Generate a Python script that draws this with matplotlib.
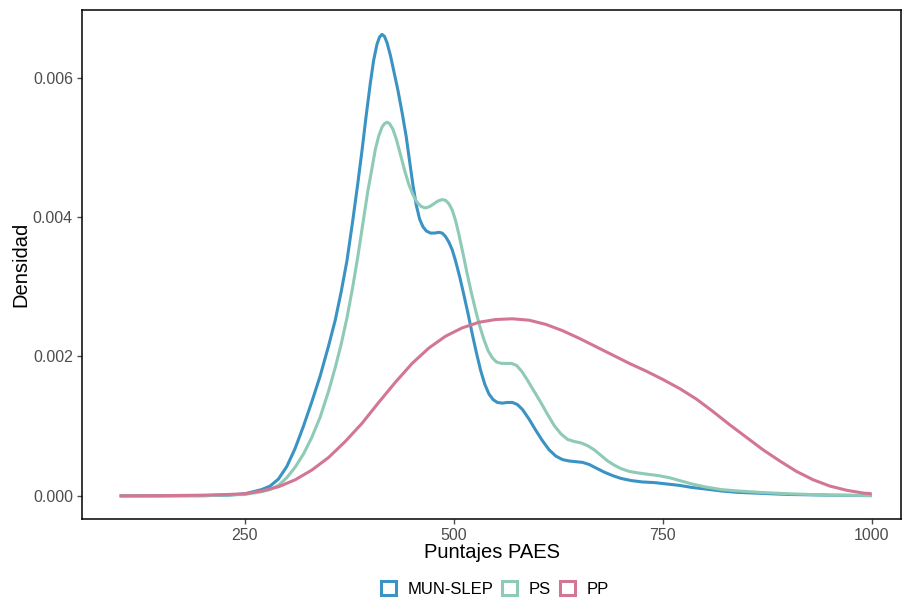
import matplotlib
matplotlib.use('Agg')
import matplotlib.pyplot as plt
from matplotlib.patches import Patch

plt.rcParams['font.family'] = ['Liberation Sans', 'DejaVu Sans']

# curvas de densidad
x_mun = [100, 150, 200, 230, 250, 260, 270, 280, 290, 300, 310, 320, 330, 340, 350, 358,
         365, 372, 379, 385, 390, 395, 400, 404, 408, 411, 414, 417, 420, 424, 428, 433,
         438, 443, 447, 451, 455, 459, 463, 467, 472, 477, 482, 486, 490, 494, 498, 502,
         507, 512, 517, 522, 527, 532, 537, 542, 547, 552, 558, 564, 570, 576, 582, 590,
         598, 606, 614, 622, 630, 638, 646, 654, 662, 670, 680, 690, 700, 712, 725, 740,
         755, 770, 785, 800, 820, 840, 860, 880, 900, 950, 1000]
y_mun = [0, 0, 0.000003, 0.00001, 0.00003, 0.00006, 0.00009, 0.00014, 0.00024, 0.00042,
         0.00068, 0.00100, 0.00135, 0.00172, 0.00215, 0.00252, 0.00292, 0.00337, 0.00395,
         0.00448, 0.00495, 0.00545, 0.00592, 0.00625, 0.00648, 0.00658, 0.00662, 0.00659,
         0.00650, 0.00632, 0.00610, 0.00582, 0.00550, 0.00515, 0.00480, 0.00446, 0.00417,
         0.00397, 0.00386, 0.00380, 0.00377, 0.00377, 0.00378, 0.00377, 0.00372, 0.00364,
         0.00353, 0.00337, 0.00314, 0.00288, 0.00261, 0.00232, 0.00205, 0.00180, 0.00160,
         0.00146, 0.00138, 0.00134, 0.00133, 0.00134, 0.00134, 0.00131, 0.00124, 0.00110,
         0.00094, 0.00079, 0.00066, 0.00057, 0.00052, 0.00050, 0.00049, 0.00048, 0.00045,
         0.00040, 0.00034, 0.00029, 0.00025, 0.00022, 0.00020, 0.00019, 0.00017, 0.00015,
         0.00012, 0.00010, 0.00007, 0.00005, 0.00004, 0.00003, 0.00002, 0.00001, 0.000003]

x_ps = [100, 150, 200, 250, 260, 270, 280, 290, 300, 310, 320, 330, 340, 350, 358, 365,
        372, 379, 385, 391, 397, 402, 406, 410, 414, 417, 420, 423, 427, 431, 436, 441,
        446, 451, 456, 461, 466, 471, 476, 481, 486, 490, 494, 498, 502, 506, 511, 516,
        521, 526, 531, 536, 541, 546, 551, 557, 563, 569, 575, 581, 588, 596, 604, 612,
        620, 628, 636, 644, 652, 660, 668, 676, 684, 692, 700, 710, 720, 732, 745, 758,
        770, 785, 800, 820, 840, 866, 900, 950, 1000]
y_ps = [0, 0, 0.000002, 0.00002, 0.00004, 0.00006, 0.00009, 0.00015, 0.00026, 0.00041,
        0.00060, 0.00084, 0.00113, 0.00150, 0.00184, 0.00217, 0.00255, 0.00300, 0.00343,
        0.00390, 0.00437, 0.00470, 0.00497, 0.00516, 0.00529, 0.00534, 0.00536, 0.00534,
        0.00526, 0.00512, 0.00490, 0.00467, 0.00447, 0.00432, 0.00421, 0.00415, 0.00413,
        0.00415, 0.00419, 0.00423, 0.00425, 0.00424, 0.00419, 0.00410, 0.00395, 0.00375,
        0.00347, 0.00318, 0.00291, 0.00266, 0.00243, 0.00224, 0.00208, 0.00198, 0.00192,
        0.00190, 0.00190, 0.00190, 0.00187, 0.00179, 0.00166, 0.00150, 0.00134, 0.00117,
        0.00101, 0.00089, 0.00081, 0.00078, 0.00076, 0.00072, 0.00066, 0.00058, 0.00050,
        0.00044, 0.00039, 0.00035, 0.00033, 0.00031, 0.00029, 0.00026, 0.00022, 0.00017,
        0.00013, 0.00009, 0.00007, 0.00005, 0.00003, 0.00001, 0.000005]

x_pp = [100, 150, 200, 230, 250, 270, 290, 310, 330, 350, 370, 390, 410, 430, 450, 470,
        490, 510, 530, 550, 570, 590, 610, 630, 650, 670, 690, 710, 730, 750, 770, 790,
        810, 830, 850, 870, 890, 910, 930, 950, 970, 990, 1000]
y_pp = [0, 0.000003, 0.00001, 0.00002, 0.00003, 0.00007, 0.00013, 0.00023, 0.00037,
        0.00055, 0.00078, 0.00104, 0.00134, 0.00163, 0.00190, 0.00212, 0.00229, 0.00241,
        0.00249, 0.00253, 0.00254, 0.00252, 0.00246, 0.00237, 0.00226, 0.00214, 0.00202,
        0.00190, 0.00179, 0.00167, 0.00154, 0.00139, 0.00121, 0.00102, 0.00084, 0.00066,
        0.00050, 0.00035, 0.00023, 0.00014, 0.00008, 0.00004, 0.00003]

grupos = ['MUN-SLEP', 'PS', 'PP']
colores = ['#3a93c3', '#8ecab6', '#d27694']
x_ticks = [250, 500, 750, 1000]
y_ticks = [0, 0.002, 0.004, 0.006]

fig = plt.figure(figsize=(9.02, 5.99), dpi=100)
ax = fig.add_axes([82 / 902, 80 / 599, 819 / 902, 509 / 599])

for xs, ys, c in zip([x_mun, x_ps, x_pp], [y_mun, y_ps, y_pp], colores):
    ax.plot(xs, ys, color=c, lw=2.2, solid_joinstyle='round', solid_capstyle='butt')

ax.set_xlim(55, 1035)
ax.set_ylim(-0.000332, 0.00697)
ax.set_xticks(x_ticks)
ax.set_yticks(y_ticks)
ax.set_yticklabels([f'{v:.3f}' for v in y_ticks])
ax.tick_params(axis='both', labelsize=11.5, colors='#4d4d4d', length=3.5, width=1, pad=3)
for lab in ax.get_xticklabels() + ax.get_yticklabels():
    lab.set_color('#4d4d4d')
for s in ax.spines.values():
    s.set_linewidth(1.1)
    s.set_color('black')

ax.set_xlabel('Puntajes PAES', fontsize=14.5, labelpad=0)
ax.set_ylabel('Densidad', fontsize=14.5, labelpad=2)

handles = [Patch(facecolor='none', edgecolor=c, linewidth=2.2) for c in colores]
fig.legend(handles, grupos, loc='center', bbox_to_anchor=(495 / 902, 1 - 589 / 599),
           ncol=3, frameon=False, fontsize=12, handlelength=0.9, handleheight=0.9,
           handletextpad=0.7, columnspacing=0.55)

fig.savefig('out.png', dpi=100)
